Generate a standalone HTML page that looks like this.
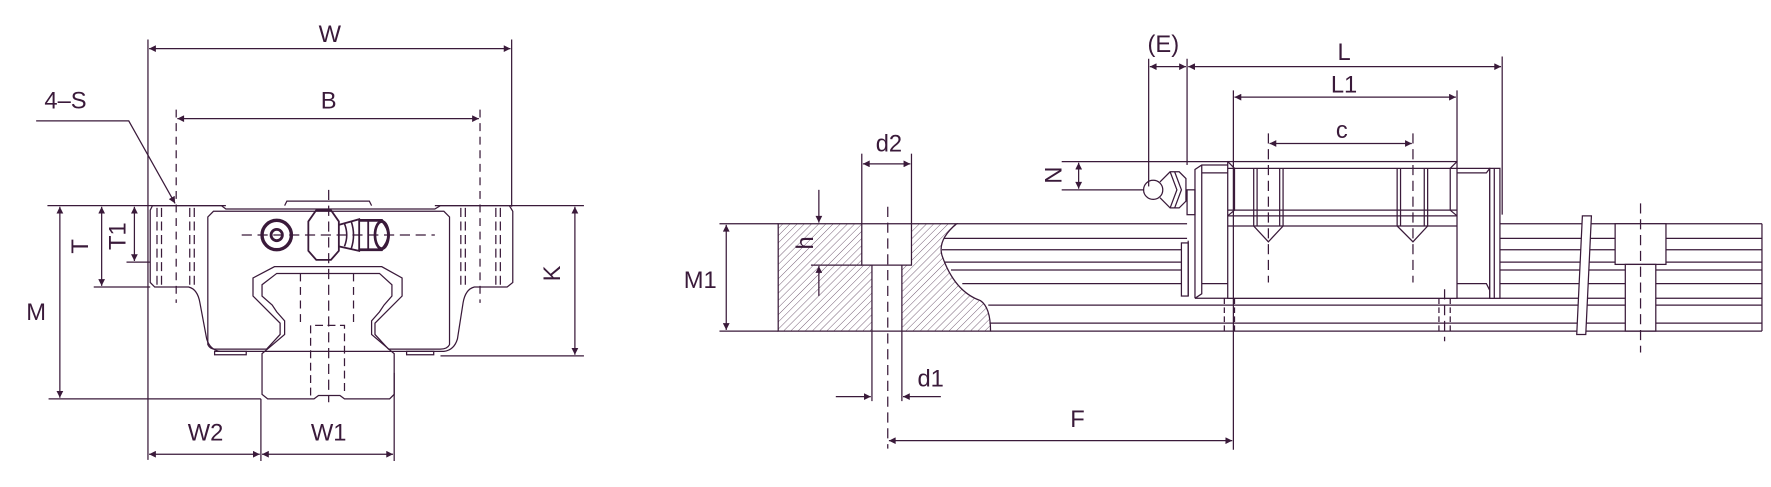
<!DOCTYPE html>
<html><head><meta charset="utf-8"><style>
html,body{margin:0;padding:0;background:#fff;}
svg{display:block}
text{font-family:"Liberation Sans",sans-serif;fill:#3a1a3a;font-size:21px;}
</style></head><body>
<svg width="1771" height="487" viewBox="0 0 1568 431" preserveAspectRatio="none" xmlns="http://www.w3.org/2000/svg">
<defs>
<marker id="a" viewBox="0 0 10 10" refX="10" refY="5" markerWidth="11" markerHeight="6" markerUnits="userSpaceOnUse" orient="auto-start-reverse"><path d="M0,0 L10,5 L0,10 z" fill="#3a1a3a"/></marker>
<pattern id="hatch" patternUnits="userSpaceOnUse" width="4.5" height="4.5" patternTransform="rotate(45)"><line x1="0" y1="0" x2="0" y2="4.5" stroke="#3a1a3a" stroke-width="0.6"/></pattern>
</defs>
<g fill="none" stroke="#3a1a3a" stroke-width="1.1">
<!-- ================= LEFT VIEW ================= -->
<line x1="131" y1="35" x2="131" y2="407"/>
<line x1="453" y1="35" x2="453" y2="183"/>
<line x1="132" y1="43" x2="452" y2="43" marker-start="url(#a)" marker-end="url(#a)"/>
<line x1="156" y1="97" x2="156" y2="268" stroke-dasharray="7,5"/>
<line x1="425" y1="97" x2="425" y2="268" stroke-dasharray="7,5"/>
<line x1="157" y1="105" x2="424" y2="105" marker-start="url(#a)" marker-end="url(#a)"/>
<polyline points="32,107 114,107 155,180" marker-end="url(#a)"/>
<line x1="42" y1="182" x2="200" y2="182"/>
<line x1="385" y1="182" x2="517" y2="182"/>
<!-- block outline -->
<path d="M135,182 L196,182 L200,185 L385,185 L390,182 L451,182 L454,187 L454,250 L449,254 L420,254 Q412,256 410,268 L405,300 Q402,310 393,311 L195,311 Q186,310 183,300 L177,268 Q175,256 167,254 L137,254 L133,250 L133,186 Z"/>
<path d="M360,311 L384,311 L384,314 L360,314 Z"/>
<path d="M190,311 L218,311 L218,314 L190,314 Z"/>
<path d="M252,182 L254,178 L327,178 L329,182"/>
<!-- inner body -->
<path d="M184,254 L184,192 L189,187 L393,187 L398,192 L398,254"/>
<path d="M184,254 L184,305 Q186,309 190,309 L236,309 L248,296 L248,286 L224,262 L224,246 L243,236 L338,236 L356,246 L356,262 L332,286 L332,296 L344,309 L390,309 Q396,309 398,305 L398,254"/>
<!-- rail -->
<path d="M245,242 L336,242 L347,252 L347,262 L340,270 L336,276 L329,284 L329,296 L349,313 L349,349 L345,353 L305,353 L301,350 L282,350 L278,353 L237,353 L232,349 L232,313 L252,296 L252,284 L245,276 L241,270 L232,262 L232,252 Z"/>
<line x1="266" y1="242" x2="266" y2="288" stroke-dasharray="7,5"/>
<line x1="313" y1="242" x2="313" y2="288" stroke-dasharray="7,5"/>
<polyline points="275,350 275,288 305,288 305,350" stroke-dasharray="7,4"/>
<g stroke-dasharray="8,4">
<line x1="139" y1="184" x2="139" y2="254"/><line x1="143" y1="184" x2="143" y2="254"/>
<line x1="168" y1="184" x2="168" y2="254"/><line x1="172" y1="184" x2="172" y2="254"/>
<line x1="408" y1="184" x2="408" y2="254"/><line x1="412" y1="184" x2="412" y2="254"/>
<line x1="439" y1="184" x2="439" y2="254"/><line x1="443" y1="184" x2="443" y2="254"/>
</g>
<line x1="291" y1="168" x2="291" y2="356" stroke-dasharray="9,5"/>
<line x1="214" y1="208" x2="385" y2="208" stroke-dasharray="9,5"/>
<circle cx="245" cy="208" r="13" stroke-width="3"/>
<circle cx="245" cy="208" r="5" stroke-width="2.5"/>
<path d="M280,186 L293,186 L300,196 L300,222 L293,230 L280,230 L273,222 L273,196 Z" stroke-width="1.6"/>
<path d="M300,199 L318,194 L318,222 L300,218" stroke-width="1.6"/>
<path d="M305,198 Q309,208 305,218 M311,196 Q315,208 311,220" stroke-width="1.4"/>
<path d="M318,195 L338,195 Q350,208 338,221 L318,221" stroke-width="2.4"/>
<ellipse cx="338" cy="208" rx="6" ry="12" stroke-width="2.4"/>
<line x1="326" y1="196" x2="326" y2="220" stroke-width="1.6"/>
<line x1="53" y1="183" x2="53" y2="352" marker-start="url(#a)" marker-end="url(#a)"/>
<line x1="43" y1="353" x2="231" y2="353"/>
<line x1="90" y1="183" x2="90" y2="253" marker-start="url(#a)" marker-end="url(#a)"/>
<line x1="83" y1="254" x2="133" y2="254"/>
<line x1="119" y1="183" x2="119" y2="231" marker-start="url(#a)" marker-end="url(#a)"/>
<line x1="112" y1="232" x2="133" y2="232"/>
<line x1="509" y1="183" x2="509" y2="314" marker-start="url(#a)" marker-end="url(#a)"/>
<line x1="390" y1="315" x2="517" y2="315"/>
<line x1="231" y1="353" x2="231" y2="408"/>
<line x1="349" y1="330" x2="349" y2="408"/>
<line x1="132" y1="402" x2="230" y2="402" marker-start="url(#a)" marker-end="url(#a)"/>
<line x1="232" y1="402" x2="348" y2="402" marker-start="url(#a)" marker-end="url(#a)"/>

<!-- ================= RIGHT VIEW ================= -->
<path d="M689,198 L763,198 L763,234.6 L772,234.6 L772,293 L689,293 Z" fill="url(#hatch)" stroke="none"/>
<path d="M807,198 L847,198 Q830,212 834,226 Q845,258 868,266 Q877,272 877,293 L798.5,293 L798.5,234.6 L807,234.6 Z" fill="url(#hatch)" stroke="none"/>
<path d="M689,198 L847,198 Q830,212 834,226 Q845,258 868,266 Q877,272 877,293 L689,293 Z"/>
<polyline points="763,198 763,234.6 807,234.6 807,198"/>
<line x1="772" y1="234.6" x2="772" y2="355"/>
<line x1="798.5" y1="234.6" x2="798.5" y2="355"/>
<line x1="786" y1="183" x2="786" y2="397" stroke-dasharray="9,5"/>
<line x1="847" y1="198" x2="1051" y2="198"/>
<line x1="836" y1="211" x2="1051" y2="211"/>
<line x1="834" y1="221" x2="1051" y2="221"/>
<line x1="836" y1="232" x2="1051" y2="232"/>
<line x1="842" y1="239" x2="1051" y2="239"/>
<line x1="852" y1="251" x2="1051" y2="251"/>
<g>
<line x1="1328" y1="198" x2="1560" y2="198"/>
<line x1="1328" y1="211" x2="1560" y2="211"/>
<line x1="1328" y1="221" x2="1560" y2="221"/>
<line x1="1328" y1="232" x2="1560" y2="232"/>
<line x1="1328" y1="239" x2="1560" y2="239"/>
<line x1="1328" y1="251" x2="1560" y2="251"/>
</g>
<line x1="1058" y1="264" x2="1560" y2="264"/>
<line x1="875" y1="270" x2="1560" y2="270"/>
<line x1="876" y1="286" x2="1560" y2="286"/>
<line x1="877" y1="293" x2="1560" y2="293"/>
<line x1="1560" y1="198" x2="1560" y2="293"/>
<rect x="1087" y="143" width="203" height="121" fill="#fff"/>
<path d="M1087,149 L1290,149 M1087,186 L1290,186 M1087,191 L1290,191 M1087,200 L1290,200"/>
<path d="M1087,143 L1093,149 M1290,143 L1284,149 M1087,191 L1093,186 M1290,191 L1284,186 M1093,149 L1093,186 M1284,149 L1284,186"/>
<path d="M1058,264 L1058,150 L1064,146 L1087,146 M1064,146 L1064,260 L1058,264 M1064,153 L1087,153 M1064,251 L1087,251"/>
<path d="M1290,149 L1319,149 L1319,264 M1290,153 L1316,153 L1319,149 M1290,251 L1316,251 L1319,257"/>
<rect x="1319" y="149" width="9" height="115" fill="#fff"/>
<line x1="1323" y1="149" x2="1323" y2="264"/>
<rect x="1051" y="168" width="7" height="22"/>
<rect x="1046" y="215" width="6" height="47" fill="#fff"/>
<line x1="1052" y1="213" x2="1052" y2="262"/>
<path d="M1110,149 L1110,200 L1123,214 L1136,200 L1136,149 M1113,149 L1113,200 M1133,149 L1133,200"/>
<path d="M1237,149 L1237,200 L1251,214 L1264,200 L1264,149 M1240,149 L1240,200 M1261,149 L1261,200"/>
<line x1="1123" y1="118" x2="1123" y2="250" stroke-dasharray="9,5"/>
<line x1="1251" y1="118" x2="1251" y2="250" stroke-dasharray="9,5"/>
<g stroke-dasharray="5,3">
<line x1="1084" y1="264" x2="1084" y2="293"/><line x1="1093" y1="264" x2="1093" y2="293"/>
<line x1="1274" y1="264" x2="1274" y2="293"/><line x1="1284" y1="264" x2="1284" y2="293"/>
</g>
<line x1="1279" y1="256" x2="1279" y2="302" stroke-dasharray="9,5"/>
<circle cx="1021" cy="168" r="8.5"/>
<path d="M1027,161 L1036,152 L1044,152 L1050,158 L1050,178 L1044,184 L1036,184 L1027,175"/>
<path d="M1036,152 L1042,168 L1036,184 M1040,152 L1046,168 L1040,184"/>
<path d="M1401,191 L1409,191 L1404,296 L1396,296 Z" fill="#fff"/>
<rect x="1430" y="198" width="45" height="36" fill="#fff"/>
<rect x="1439" y="234" width="27" height="59" fill="#fff"/>
<line x1="1452.5" y1="180" x2="1452.5" y2="312" stroke-dasharray="9,5"/>
<line x1="637" y1="198" x2="689" y2="198"/>
<line x1="637" y1="293" x2="689" y2="293"/>
<line x1="643" y1="199" x2="643" y2="292" marker-start="url(#a)" marker-end="url(#a)"/>
<line x1="763" y1="136" x2="763" y2="198"/>
<line x1="807" y1="136" x2="807" y2="198"/>
<line x1="764" y1="145" x2="806" y2="145" marker-start="url(#a)" marker-end="url(#a)"/>
<line x1="740" y1="351" x2="771" y2="351" marker-end="url(#a)"/>
<line x1="833" y1="351" x2="799.5" y2="351" marker-end="url(#a)"/>
<line x1="725" y1="168" x2="725" y2="197" marker-end="url(#a)"/>
<line x1="725" y1="262" x2="725" y2="235.5" marker-end="url(#a)"/>
<line x1="718" y1="234.6" x2="763" y2="234.6"/>
<line x1="787" y1="390" x2="1091" y2="390" marker-start="url(#a)" marker-end="url(#a)"/>
<line x1="1092" y1="80" x2="1092" y2="398"/>
<line x1="1290" y1="80" x2="1290" y2="143"/>
<line x1="1093" y1="86" x2="1289" y2="86" marker-start="url(#a)" marker-end="url(#a)"/>
<line x1="1124" y1="127" x2="1250" y2="127" marker-start="url(#a)" marker-end="url(#a)"/>
<line x1="1017" y1="52" x2="1017" y2="165"/>
<line x1="1051" y1="52" x2="1051" y2="146"/>
<line x1="1330" y1="50" x2="1330" y2="190"/>
<line x1="1052" y1="59" x2="1329" y2="59" marker-start="url(#a)" marker-end="url(#a)"/>
<line x1="1018" y1="59" x2="1050" y2="59" marker-start="url(#a)" marker-end="url(#a)"/>
<line x1="940" y1="143" x2="1087" y2="143"/>
<line x1="940" y1="168" x2="1013" y2="168"/>
<line x1="955" y1="144" x2="955" y2="167" marker-start="url(#a)" marker-end="url(#a)"/>
</g>
<text x="292" y="37" text-anchor="middle">W</text>
<text x="291" y="96" text-anchor="middle">B</text>
<text x="58" y="96" text-anchor="middle">4–S</text>
<text x="32" y="283" text-anchor="middle">M</text>
<text transform="translate(78,218) rotate(-90)" text-anchor="middle">T</text>
<text transform="translate(111,209) rotate(-90)" text-anchor="middle">T1</text>
<text transform="translate(496,242) rotate(-90)" text-anchor="middle">K</text>
<text x="182" y="390" text-anchor="middle">W2</text>
<text x="291" y="390" text-anchor="middle">W1</text>
<text x="1030" y="46" text-anchor="middle">(E)</text>
<text x="1190" y="53" text-anchor="middle">L</text>
<text x="1190" y="82" text-anchor="middle">L1</text>
<text x="1188" y="122" text-anchor="middle">c</text>
<text x="787" y="134" text-anchor="middle">d2</text>
<text x="824" y="342" text-anchor="middle">d1</text>
<text x="954" y="378" text-anchor="middle">F</text>
<text x="620" y="255" text-anchor="middle">M1</text>
<text transform="translate(720,215) rotate(-90)" text-anchor="middle">h</text>
<text transform="translate(940,155) rotate(-90)" text-anchor="middle">N</text>
</svg>
</body></html>
